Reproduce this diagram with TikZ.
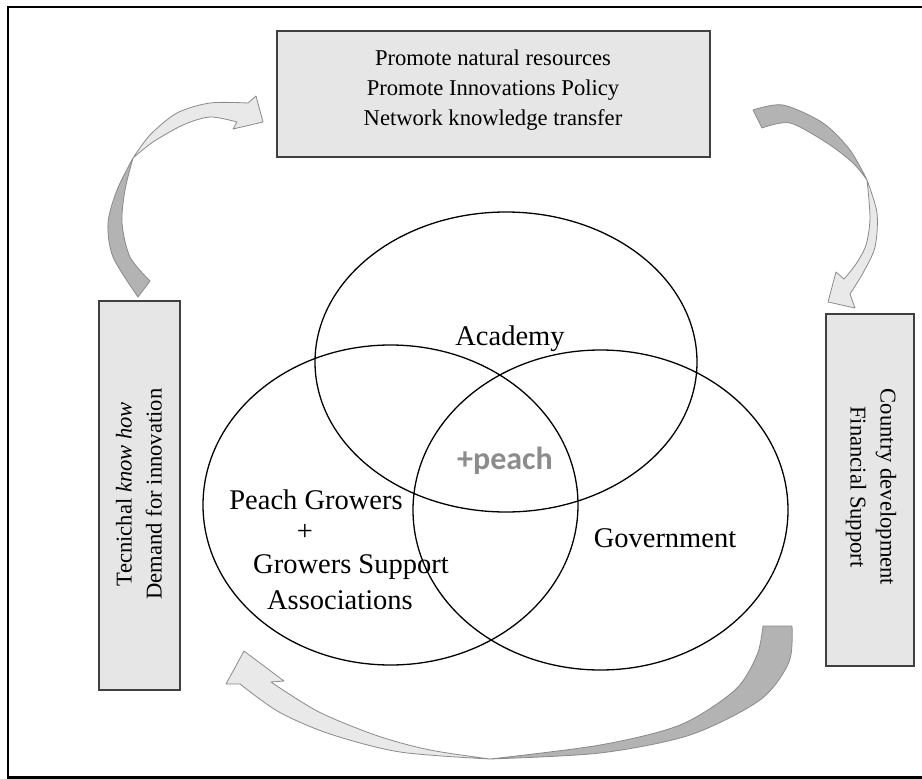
\documentclass[tikz,border=0pt]{standalone}
\usepackage{fontspec}
\setmainfont{Liberation Serif}
\newfontfamily\calibrifont{Carlito}
\usetikzlibrary{shapes.geometric}
\definecolor{boxfill}{HTML}{E7E6E6}
\definecolor{boxline}{HTML}{404040}
\definecolor{arrowdark}{HTML}{B3B3B3}
\definecolor{arrowlight}{HTML}{E9E9E9}
\definecolor{arrowline}{HTML}{8A8A8A}
\definecolor{peachgray}{HTML}{8C8C8C}
\begin{document}
\begin{tikzpicture}[x=1pt,y=-1pt,
  infobox/.style={draw=boxline, line width=1.3pt, fill=boxfill, inner sep=0pt},
  venn/.style={draw=black, line width=1.3pt, ellipse, inner sep=0pt},
  vlabel/.style={font=\fontsize{28.5}{33}\selectfont, inner sep=0pt},
  blabel/.style={font=\fontsize{22.6}{30}\selectfont, align=center, inner sep=0pt},
  darkpart/.style={fill=arrowdark, draw=arrowline, line width=0.8pt, line join=round},
  lightpart/.style={fill=arrowlight, draw=arrowline, line width=0.8pt, line join=round}]

\useasboundingbox (0,0) rectangle (922,779);
\draw[line width=2.5pt] (8,7) rectangle (940,777.5);

% boxes
\node[infobox, minimum width=433, minimum height=126] (top) at (493.5,94) {};
\node[blabel] (toptext) at (493,90) {Promote natural resources\\Promote Innovations Policy\\Network knowledge transfer};
\node[infobox, minimum width=81, minimum height=389] (left) at (139.5,495.5) {};
\node[blabel, rotate=90] (lefttext) at (139,494) {Tecnichal \textit{know how}\\Demand for innovation};
\node[infobox, minimum width=88, minimum height=352] (right) at (870,490) {};
\node[blabel, rotate=-90] (righttext) at (871,487) {Country development\\Financial Support};

% Venn ellipses
\node[venn, minimum width=382, minimum height=300] (acad) at (506,362) {};
\node[venn, minimum width=375, minimum height=320] (grow) at (390.5,505) {};
\node[venn, minimum width=375, minimum height=320] (gov) at (600.5,510) {};

% labels
\node[vlabel] (lacad) at (510,339) {Academy};
\node[vlabel] (lgov) at (665,538) {Government};
\node[vlabel] (lg1) at (316,500) {Peach Growers};
\node[vlabel] (lg2) at (305,532) {+};
\node[vlabel] (lg3) at (351,567) {Growers Support};
\node[vlabel] (lg4) at (340,600) {Associations};
\node[font=\calibrifont\bfseries\fontsize{32}{32}\selectfont, text=peachgray, inner sep=0pt] (peach) at (505,461) {+peach};

% left curved arrow
\filldraw[darkpart] plot[smooth] coordinates {(138,297) (113,257) (108,223) (117,190) (133,158)}
  -- plot[smooth] coordinates {(133,158) (125,190) (122,223) (130,257) (150,281)} -- cycle;
\filldraw[lightpart] plot[smooth] coordinates {(133,158) (150,135) (177,113) (210,103) (248,103)}
  -- (256,96) -- (263,122) -- (233,129) -- (237,122)
  -- plot[smooth] coordinates {(237,122) (210,117) (183,125) (153,142) (133,158)} -- cycle;

% right curved arrow
\filldraw[darkpart] plot[smooth] coordinates {(753,110) (783,105) (823,123) (850,150) (867,180)}
  -- plot[smooth] coordinates {(867,180) (853,163) (827,143) (790,123) (762,128)} -- cycle;
\filldraw[lightpart] plot[smooth] coordinates {(867,180) (877,213) (875,247) (863,273) (850,294)}
  -- (855,308) -- (828,302) -- (836,272) -- (844,279)
  -- plot[smooth] coordinates {(844,279) (856,264) (866,245) (870,218) (867,180)} -- cycle;

% bottom curved arrow
\filldraw[darkpart] plot[smooth] coordinates {(792,626) (789,662) (760,700) (690,735) (600,753) (490,759)}
  -- plot[smooth] coordinates {(490,759) (600,745) (680,725) (735,690) (757,655) (763,626)} -- cycle;
\filldraw[lightpart] plot[smooth] coordinates {(490,759) (400,752) (330,734) (279,712) (240,684)}
  -- (226,684) -- (244,651) -- (284,681) -- (271,682)
  -- plot[smooth] coordinates {(271,682) (319,712) (378,736) (430,750) (490,759)} -- cycle;
\end{tikzpicture}
\end{document}
